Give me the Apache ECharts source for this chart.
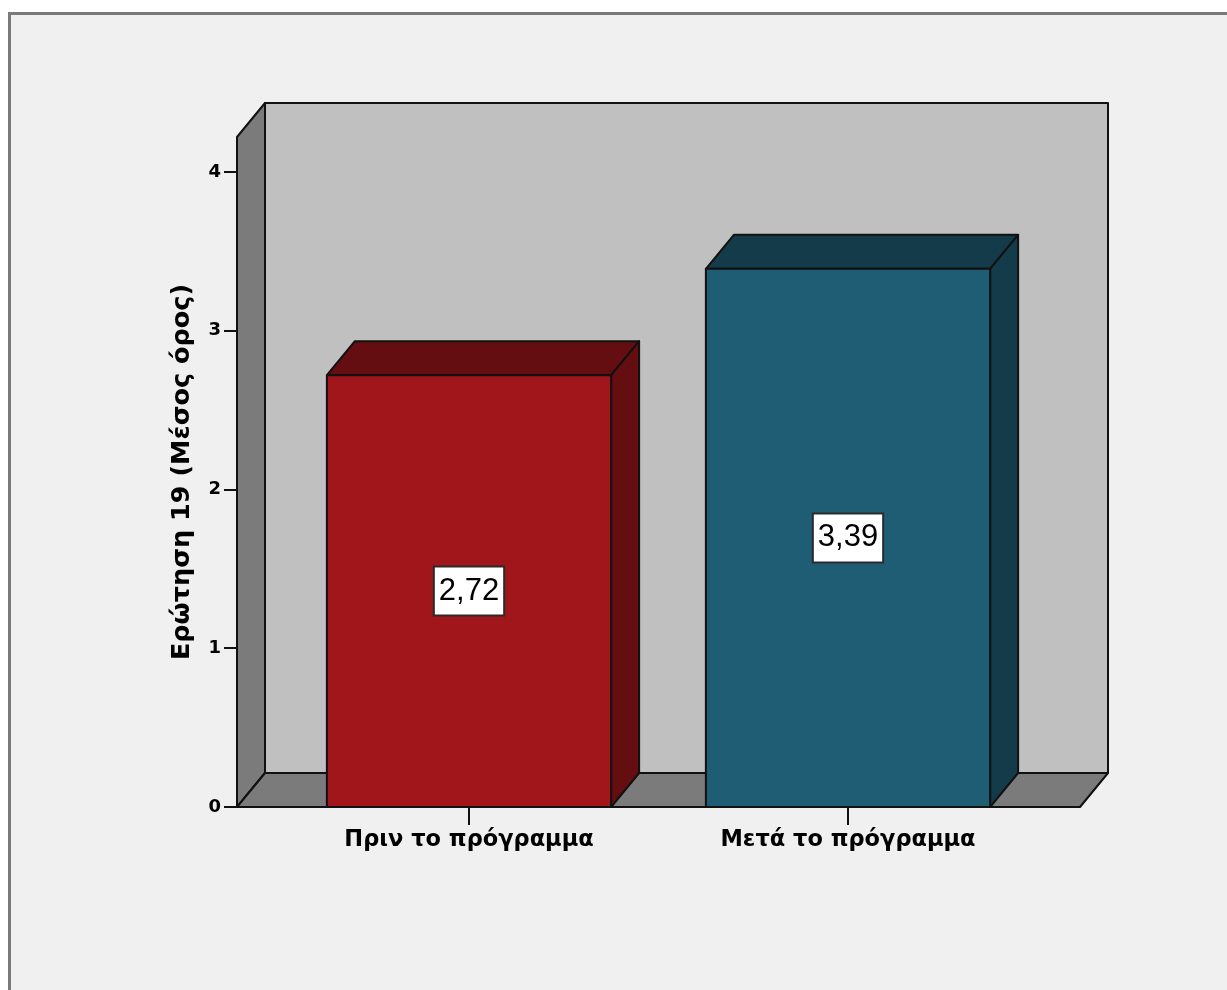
<!DOCTYPE html>
<html>
<head>
<meta charset="utf-8">
<script src="https://cdn.jsdelivr.net/npm/echarts@6/dist/echarts.min.js"></script>
<style>
  html, body { margin: 0; padding: 0; background: #ffffff; }
  #chart { width: 1227px; height: 990px; }
</style>
</head>
<body>
<div id="chart"></div>
<script>
// Mean score for question 19, before and after the programme
const categories = ['Πριν το πρόγραμμα', 'Μετά το πρόγραμμα'];
const means = [2.72, 3.39];
const yTicks = [0, 1, 2, 3, 4];
const yTitle = 'Ερώτηση 19 (Μέσος όρος)';

// Styling for the pseudo-3D box and bars
const FONT = '"Liberation Sans", Arial, sans-serif';
const AXIS_FONT = '"DejaVu Sans", Verdana, sans-serif';
const DEPTH_X = 28;      // horizontal depth offset
const DEPTH_Y = -34;     // vertical depth offset
const WALL_PAD = 42.5;   // floor extends this far past the category band
const faceColors = ['#a1161a', '#1e5d74'];
const sideColors = ['#650e11', '#133b4a'];
const EDGE = '#111111';

const fmt = v => v.toFixed(2).replace('.', ',');

const chart = echarts.init(document.getElementById('chart'), null, { renderer: 'canvas' });

function renderBox(params, api) {
  const cs = params.coordSys;
  const yBase = api.coord([0, 0])[1];
  const yTop = cs.y;
  const xl = cs.x - WALL_PAD;
  const xr = cs.x + cs.width + WALL_PAD;
  const line = { stroke: EDGE, lineWidth: 2, lineJoin: 'round' };
  return {
    type: 'group',
    children: [
      { // back wall
        type: 'polygon',
        shape: { points: [[xl + DEPTH_X, yTop + DEPTH_Y], [xr + DEPTH_X, yTop + DEPTH_Y], [xr + DEPTH_X, yBase + DEPTH_Y], [xl + DEPTH_X, yBase + DEPTH_Y]] },
        style: Object.assign({ fill: '#c0c0c0' }, line)
      },
      { // left wall
        type: 'polygon',
        shape: { points: [[xl, yBase], [xl, yTop], [xl + DEPTH_X, yTop + DEPTH_Y], [xl + DEPTH_X, yBase + DEPTH_Y]] },
        style: Object.assign({ fill: '#7b7b7b' }, line)
      },
      { // floor
        type: 'polygon',
        shape: { points: [[xl, yBase], [xl + DEPTH_X, yBase + DEPTH_Y], [xr + DEPTH_X, yBase + DEPTH_Y], [xr, yBase]] },
        style: Object.assign({ fill: '#7b7b7b' }, line)
      }
    ]
  };
}

function renderBar(params, api) {
  const i = api.value(0);
  const v = api.value(1);
  const pBase = api.coord([i, 0]);
  const pTop = api.coord([i, v]);
  const w = api.size([1, 0])[0] * 0.75;
  const x0 = pBase[0] - w / 2;
  const x1 = pBase[0] + w / 2;
  const y0 = pBase[1];
  const y1 = pTop[1];
  const line = { stroke: EDGE, lineWidth: 2, lineJoin: 'round' };
  return {
    type: 'group',
    children: [
      { // top face
        type: 'polygon',
        shape: { points: [[x0, y1], [x0 + DEPTH_X, y1 + DEPTH_Y], [x1 + DEPTH_X, y1 + DEPTH_Y], [x1, y1]] },
        style: Object.assign({ fill: sideColors[i] }, line)
      },
      { // right face
        type: 'polygon',
        shape: { points: [[x1, y1], [x1 + DEPTH_X, y1 + DEPTH_Y], [x1 + DEPTH_X, y0 + DEPTH_Y], [x1, y0]] },
        style: Object.assign({ fill: sideColors[i] }, line)
      },
      { // front face
        type: 'rect',
        shape: { x: x0, y: y1, width: w, height: y0 - y1 },
        style: Object.assign({ fill: faceColors[i] }, line)
      },
      { // value label
        type: 'text',
        style: {
          text: fmt(v),
          x: pBase[0],
          y: (y0 + y1) / 2,
          align: 'center',
          verticalAlign: 'middle',
          font: '31px ' + FONT,
          fill: '#000',
          backgroundColor: '#ffffff',
          borderColor: '#2a2a2a',
          borderWidth: 2,
          padding: [8, 4, 8, 4]
        }
      }
    ]
  };
}

chart.setOption({
  backgroundColor: '#ffffff',
  animation: false,
  graphic: [{
    type: 'rect',
    z: -10,
    shape: { x: 9.5, y: 13.5, width: 1400, height: 1200 },
    style: { fill: '#f0f0f0', stroke: '#7a7a7a', lineWidth: 3 }
  }],
  grid: { left: 279.5, right: 189.5, top: 137, bottom: 183, containLabel: false },
  xAxis: {
    type: 'category',
    data: categories,
    axisLine: { show: false },
    axisTick: { show: true, alignWithLabel: true, length: 18, lineStyle: { color: '#111', width: 2 } },
    axisLabel: { margin: 22, color: '#000', fontWeight: 'bold', fontSize: 22.5, fontFamily: AXIS_FONT },
    splitLine: { show: false }
  },
  yAxis: {
    type: 'value',
    min: 0,
    max: 4.22,
    interval: 1,
    offset: 42.5,
    name: yTitle,
    nameLocation: 'middle',
    nameRotate: 90,
    nameGap: 42,
    nameTextStyle: { color: '#000', fontWeight: 'bold', fontSize: 25.5, fontFamily: AXIS_FONT },
    axisLine: { show: false },
    axisTick: { show: true, length: 13, customValues: yTicks, lineStyle: { color: '#111', width: 2 } },
    axisLabel: { margin: 16, customValues: yTicks, color: '#000', fontWeight: 'bold', fontSize: 18, fontFamily: AXIS_FONT },
    splitLine: { show: false }
  },
  series: [
    {
      type: 'custom',
      name: 'box',
      z: 1,
      silent: true,
      renderItem: renderBox,
      data: [[0, 0]]
    },
    {
      type: 'custom',
      name: 'means',
      z: 2,
      renderItem: renderBar,
      data: means.map((v, i) => [i, v])
    }
  ]
});
</script>
</body>
</html>
